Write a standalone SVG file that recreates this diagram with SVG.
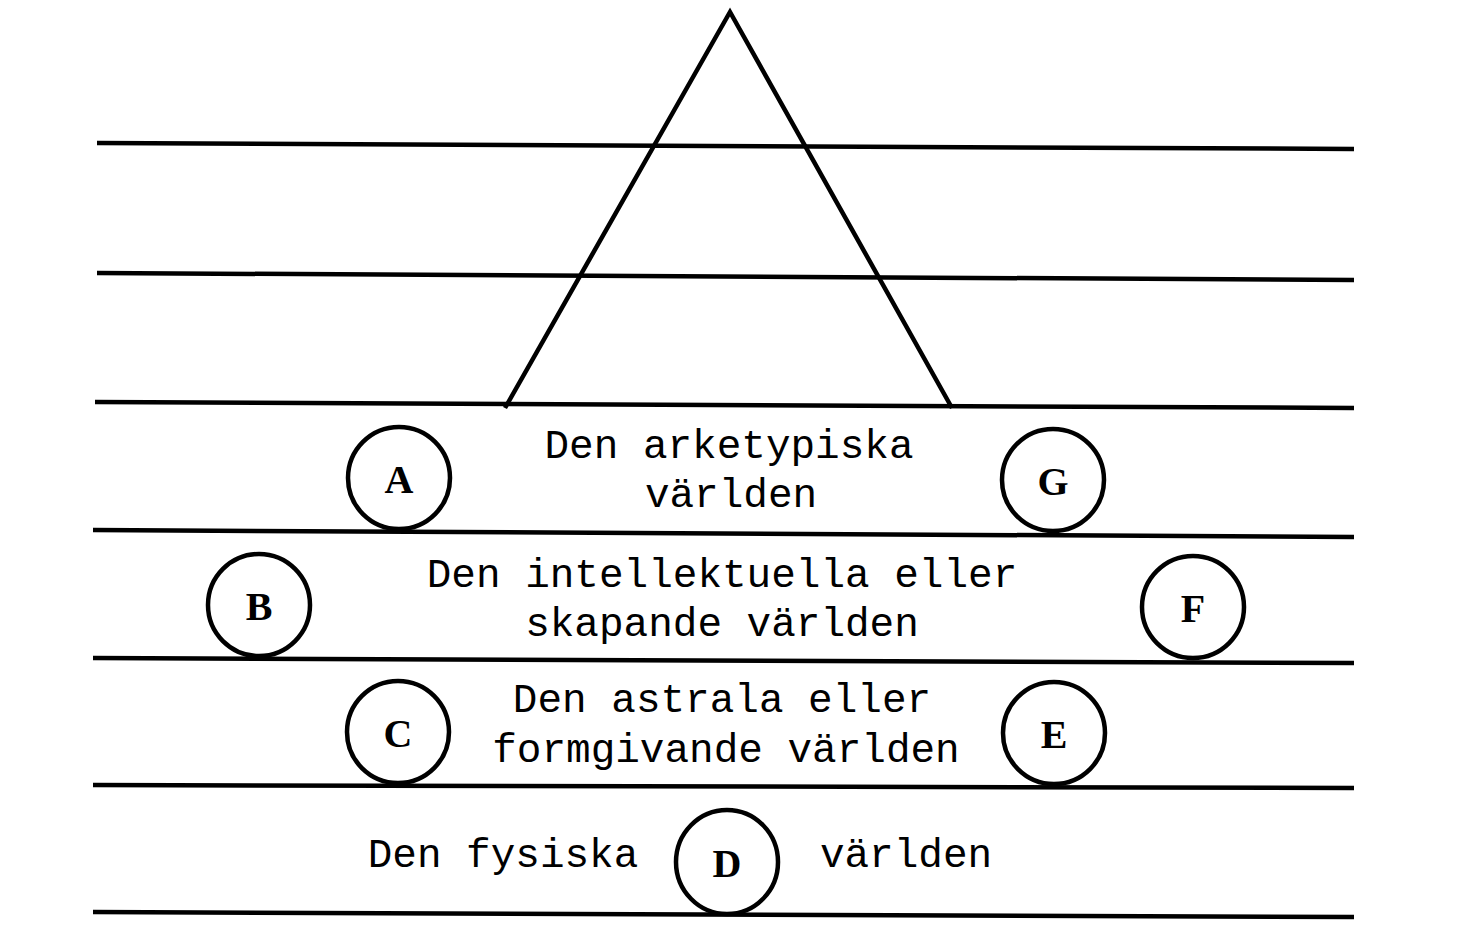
<svg xmlns="http://www.w3.org/2000/svg" width="1468" height="952" viewBox="0 0 1468 952">
<style>
.ln{stroke:#000;stroke-width:4.5;fill:none;stroke-linecap:butt}
.c{stroke:#000;stroke-width:4.5;fill:#fff}
.t{font-family:"Liberation Mono",monospace;font-size:41px;fill:#000;text-anchor:middle}
.l{font-family:"Liberation Serif",serif;font-size:40px;font-weight:bold;fill:#000;text-anchor:middle}
</style>
<rect width="1468" height="952" fill="#fff"/>
<g id="connectors">
<line class="ln" x1="97" y1="143" x2="1354" y2="149"/>
<line class="ln" x1="97" y1="273" x2="1354" y2="280"/>
<line class="ln" x1="95" y1="402" x2="1354" y2="408"/>
<line class="ln" x1="93" y1="530" x2="1354" y2="537"/>
<line class="ln" x1="93" y1="658" x2="1354" y2="663"/>
<line class="ln" x1="93" y1="785" x2="1354" y2="788"/>
<line class="ln" x1="93" y1="912" x2="1354" y2="917"/>
</g>
<g id="triangle">
<polyline class="ln" points="505,408 730,12 952,408" stroke-linejoin="miter"/>
</g>
<g id="labels">
<text class="t" x="729" y="458">Den arketypiska</text>
<text class="t" x="731" y="507">världen</text>
<text class="t" x="722" y="587">Den intellektuella eller</text>
<text class="t" x="722" y="636">skapande världen</text>
<text class="t" x="722" y="712">Den astrala eller</text>
<text class="t" x="726" y="762">formgivande världen</text>
<text class="t" x="503" y="867">Den fysiska</text>
<text class="t" x="906" y="867">världen</text>
</g>
<g id="nodeA"><circle class="c" cx="399" cy="478" r="51"/><text class="l" x="399" y="493">A</text></g>
<g id="nodeG"><circle class="c" cx="1053" cy="480" r="51"/><text class="l" x="1053" y="495">G</text></g>
<g id="nodeB"><circle class="c" cx="259" cy="605" r="51"/><text class="l" x="259" y="620">B</text></g>
<g id="nodeF"><circle class="c" cx="1193" cy="607" r="51"/><text class="l" x="1193" y="622">F</text></g>
<g id="nodeC"><circle class="c" cx="398" cy="732" r="51"/><text class="l" x="398" y="747">C</text></g>
<g id="nodeE"><circle class="c" cx="1054" cy="733" r="51"/><text class="l" x="1054" y="748">E</text></g>
<g id="nodeD"><ellipse class="c" cx="727" cy="862" rx="51" ry="52"/><text class="l" x="727" y="877">D</text></g>
</svg>
